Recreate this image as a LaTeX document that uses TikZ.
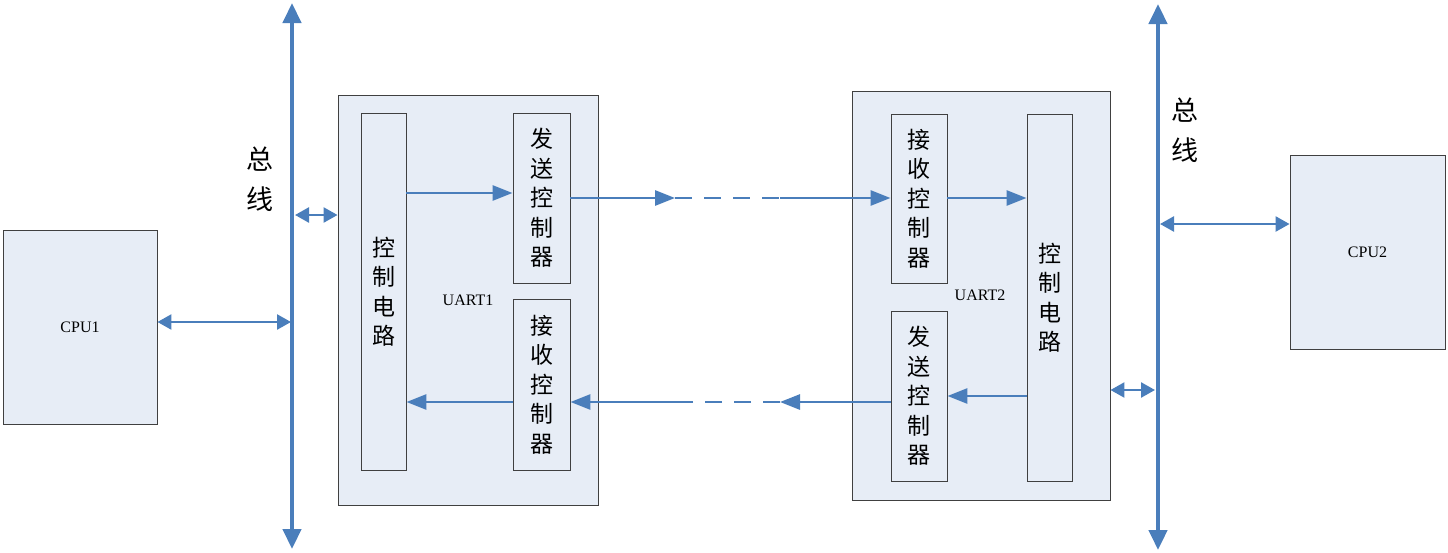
\documentclass[tikz,border=0pt]{standalone}
\usepackage{fontspec}
\setmainfont{Liberation Serif}
\newfontfamily\cjk{Noto Sans CJK SC}
\usetikzlibrary{arrows.meta}
\definecolor{arrowblue}{HTML}{4A7EBB}
\definecolor{boxfill}{HTML}{E7EDF6}
\definecolor{boxline}{HTML}{404040}
\begin{document}
\begin{tikzpicture}[x=1pt,y=-1pt,
  box/.style={draw=boxline, fill=boxfill, line width=0.9pt, inner sep=0pt, align=center},
  cjktext/.style={font=\fontsize{23}{29.5}\cjk},
  lat/.style={font=\fontsize{16}{18}\selectfont},
  conn/.style={draw=arrowblue, line width=2.8pt, -{Triangle[length=20pt,width=15pt]}},
  dashseg/.style={draw=arrowblue, line width=2.8pt, dash pattern=on 17pt off 12pt},
  dbl/.style={draw=arrowblue, line width=2.5pt, {Triangle[length=14pt,width=15pt]}-{Triangle[length=14pt,width=15pt]}},
  bus/.style={draw=arrowblue, line width=4.5pt, {Triangle[length=20pt,width=18pt]}-{Triangle[length=20pt,width=18pt]}},
  buslabel/.style={font=\fontsize{27}{40}\cjk, align=center, inner sep=0pt}
]
\useasboundingbox (0,0) rectangle (1448,552);

% CPUs
\node[box, lat, minimum width=154pt, minimum height=194pt] (cpu1) at (80,327) {CPU1};
\node[box, lat, minimum width=155pt, minimum height=194pt] (cpu2) at (1367.5,252) {CPU2};

% UART1
\node[box, minimum width=260pt, minimum height=410pt] (uart1) at (468,300) {};
\node[lat] (uart1lbl) at (468,300) {UART1};
\node[box, cjktext, minimum width=45pt, minimum height=357pt] (ctrl1) at (383.5,291.5) {控\\制\\电\\路};
\node[box, cjktext, minimum width=57pt, minimum height=170pt] (send1) at (541.5,198) {发\\送\\控\\制\\器};
\node[box, cjktext, minimum width=57pt, minimum height=171pt] (recv1) at (541.5,384.5) {接\\收\\控\\制\\器};

% UART2
\node[box, minimum width=258pt, minimum height=409pt] (uart2) at (981,295.5) {};
\node[lat] (uart2lbl) at (980,295) {UART2};
\node[box, cjktext, minimum width=56pt, minimum height=169pt] (recv2) at (919,198.5) {接\\收\\控\\制\\器};
\node[box, cjktext, minimum width=45pt, minimum height=367pt] (ctrl2) at (1049.5,297.5) {控\\制\\电\\路};
\node[box, cjktext, minimum width=56pt, minimum height=170pt] (send2) at (919,396) {发\\送\\控\\制\\器};

% bus labels
\node[buslabel] (busLlbl) at (260,179) {总\\线};
\node[buslabel] (busRlbl) at (1185,130) {总\\线};

% bus coordinates
\coordinate (busLtop) at (292,3);
\coordinate (busLbot) at (292,549);
\coordinate (busRtop) at (1158,4);
\coordinate (busRbot) at (1158,550);

% helper coordinates
\coordinate (c1) at (291,322);
\coordinate (u1b) at (295,215);
\coordinate (a1) at (0,193);
\coordinate (m1) at (675,198);
\coordinate (m2) at (780,198);
\coordinate (m3) at (780,402);
\coordinate (m4) at (688,402);
\coordinate (a2) at (0,402);
\coordinate (a3) at (0,396);
\coordinate (u2b) at (1155,390);
\coordinate (c2) at (1160,224);

% connectors
\draw[dbl] (cpu1.east |- c1) -- (c1);
\draw[dbl] (u1b) -- (uart1.west |- u1b);
\draw[conn] (ctrl1.east |- a1) -- (send1.west |- a1);
\draw[conn] (send1.east) -- (m1);
\draw[dashseg] (m1) -- (m2);
\draw[conn] (m2) -- (recv2.west |- m2);
\draw[conn] (recv2.east |- m2) -- (ctrl2.west |- m2);
\draw[conn] (ctrl2.west |- a3) -- (send2.east |- a3);
\draw[conn] (send2.west |- m3) -- (m3);
\draw[dashseg] (m3) -- (m4);
\draw[conn] (m4) -- (recv1.east |- m4);
\draw[conn] (recv1.west |- a2) -- (ctrl1.east |- a2);
\draw[dbl] (uart2.east |- u2b) -- (u2b);
\draw[dbl] (c2) -- (cpu2.west |- c2);

% buses
\draw[bus] (busLtop) -- (busLbot);
\draw[bus] (busRtop) -- (busRbot);
\end{tikzpicture}
\end{document}
